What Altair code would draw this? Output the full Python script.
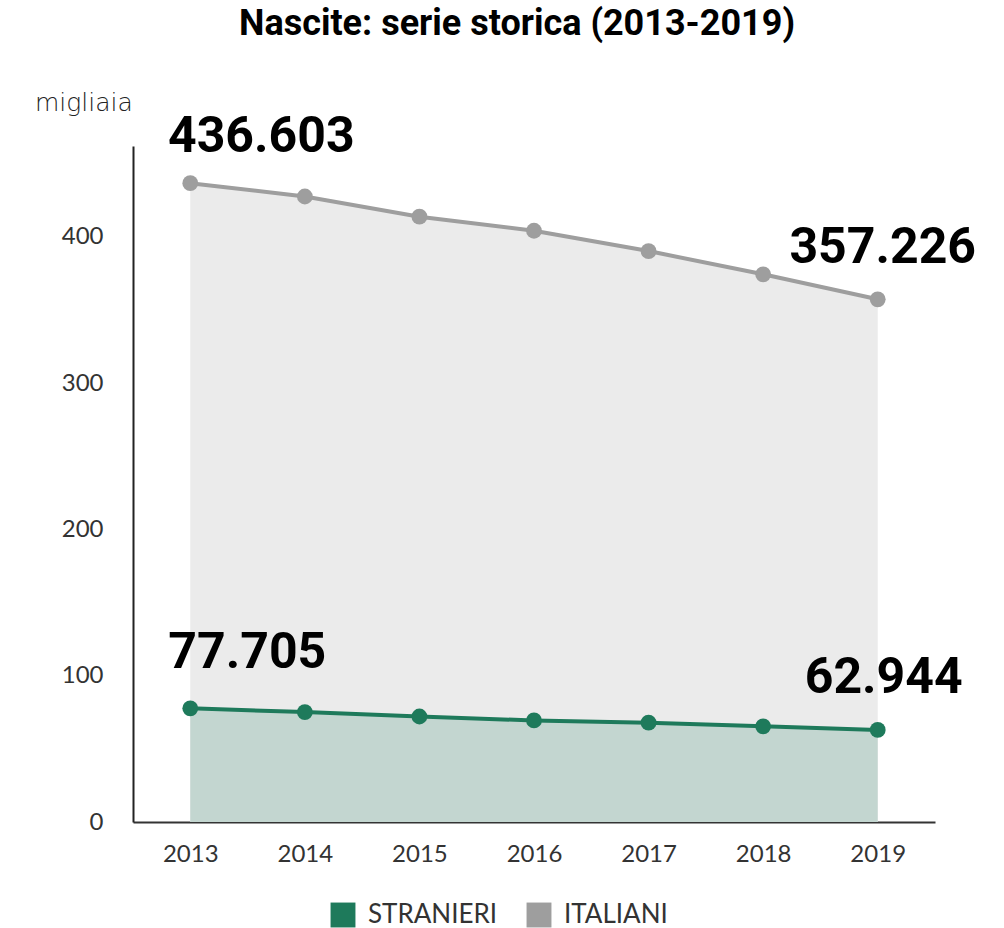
import altair as alt
import pandas as pd

years = ["2013", "2014", "2015", "2016", "2017", "2018", "2019"]
italiani = [436.603, 427.5, 413.7, 404.1, 390.2, 374.3, 357.226]
stranieri = [77.705, 75.1, 72.1, 69.4, 67.9, 65.4, 62.944]
series_names = ["STRANIERI", "ITALIANI"]
series_colors = ["#1e7a5b", "#9e9e9e"]
area_colors = {"ITALIANI": "#ebebeb", "STRANIERI": "#c3d6d0"}
y_ticks = [0, 100, 200, 300, 400]

ann_years = ["2013", "2019", "2013", "2019"]
ann_values = [436.603, 357.226, 77.705, 62.944]
ann_texts = ["436.603", "357.226", "77.705", "62.944"]
ann_offsets = [(71, -46), (5, -51), (57, -55), (6, -52)]

title_text = "Nascite: serie storica (2013-2019)"
unit_text = "migliaia"

rows = []
for yv, v in zip(years, italiani):
    rows.append({"anno": yv, "valore": v, "serie": "ITALIANI"})
for yv, v in zip(years, stranieri):
    rows.append({"anno": yv, "valore": v, "serie": "STRANIERI"})
df = pd.DataFrame(rows)

ann_df = pd.DataFrame({"anno": ann_years, "valore": ann_values, "testo": ann_texts,
                       "idx": list(range(len(ann_texts)))})

x_enc = alt.X("anno:O", scale=alt.Scale(type="point", padding=0.5), title=None,
              axis=alt.Axis(labelAngle=0, ticks=False, domainColor="#333333", domainWidth=2,
                            labelFont="Lato", labelFontSize=24, labelColor="#333333",
                            labelPadding=20, grid=False))
y_enc = alt.Y("valore:Q", scale=alt.Scale(domain=[0, 462], nice=False), title=None,
              axis=alt.Axis(values=y_ticks, ticks=False, domainColor="#222222", domainWidth=2,
                            labelFont="Lato", labelFontSize=24, labelColor="#333333",
                            labelPadding=30, grid=False))

base = alt.Chart(df)

area_it = base.transform_filter("datum.serie == 'ITALIANI'").mark_area(
    color=area_colors["ITALIANI"], opacity=1).encode(x=x_enc, y=y_enc)
area_st = base.transform_filter("datum.serie == 'STRANIERI'").mark_area(
    color=area_colors["STRANIERI"], opacity=1).encode(x=x_enc, y=y_enc)

legend = alt.Legend(title=None, orient="none", legendX=197, legendY=756,
                    direction="horizontal", symbolType="square",
                    symbolSize=620, symbolStrokeWidth=0, symbolOpacity=1,
                    labelFont="Lato", labelFontSize=26, labelColor="#333333",
                    labelOffset=12, columnPadding=28)
color_enc = alt.Color("serie:N", scale=alt.Scale(domain=series_names, range=series_colors),
                      legend=legend)

lines = base.mark_line(strokeWidth=4).encode(x=x_enc, y=y_enc, color=color_enc)
points = base.mark_circle(size=250, opacity=1).encode(x=x_enc, y=y_enc, color=color_enc)

ann_layers = []
for i, (dx, dy) in enumerate(ann_offsets):
    ann_layers.append(
        alt.Chart(ann_df).transform_filter(f"datum.idx == {i}").mark_text(
            font="Roboto", fontSize=50, fontWeight="bold", color="#000000",
            align="center", baseline="middle", dx=dx, dy=dy
        ).encode(x=x_enc, y=y_enc, text="testo:N")
    )

unit_label = alt.Chart(pd.DataFrame({"t": [unit_text]})).mark_text(
    font="DejaVu Sans", fontSize=25, fontWeight=200, color="#222222", align="left",
    baseline="middle"
).encode(x=alt.value(-98), y=alt.value(-43), text="t:N")

title_label = alt.Chart(pd.DataFrame({"t": [title_text]})).mark_text(
    font="Roboto", fontSize=36, fontWeight="bold", color="#000000", align="center",
    baseline="alphabetic"
).encode(x=alt.value(384), y=alt.value(-111), text="t:N")

chart = alt.layer(area_it, area_st, lines, points, *ann_layers, unit_label, title_label).properties(
    width=802, height=676,
    autosize=alt.AutoSizeParams(type="none"),
    padding={"left": 133, "top": 146, "right": 69, "bottom": 106},
).configure_view(stroke=None)

chart.save("out.html", embed_options={"renderer": "svg", "actions": False})
